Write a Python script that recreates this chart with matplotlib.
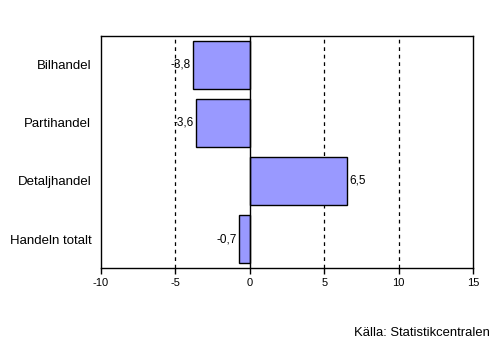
import matplotlib
matplotlib.use("Agg")
import matplotlib.pyplot as plt

categories = ["Bilhandel", "Partihandel", "Detaljhandel", "Handeln totalt"]
values = [-3.8, -3.6, 6.5, -0.7]
xticks = [-10, -5, 0, 5, 10, 15]
source = "Källa: Statistikcentralen"

plt.rcParams['font.family'] = ['Liberation Sans', 'DejaVu Sans']
fig = plt.figure(figsize=(5.01, 3.53), dpi=100)
ax = fig.add_axes([101/501, 1-268/353, (473-101)/501, (268-36)/353])

ypos = list(range(len(categories)))
ax.barh(ypos, values, height=0.82, color="#9999FF", edgecolor="black", linewidth=1, zorder=3)
ax.set_ylim(len(categories)-0.5, -0.5)
ax.set_xlim(-10, 15)
ax.set_xticks(xticks)
ax.set_xticklabels([str(t) for t in xticks], fontsize=8)
ax.set_yticks(ypos)
ax.set_yticklabels(categories, fontsize=9.5)
ax.tick_params(axis='y', length=0, pad=7)
ax.tick_params(axis='x', length=4, width=1, direction='out', pad=3)
for g in [-5, 5, 10]:
    ax.axvline(g, color='black', linestyle=(0, (3, 3)), linewidth=0.9, zorder=1)
ax.axvline(0, color='black', linewidth=1, zorder=4)
for s in ax.spines.values():
    s.set_linewidth(1)

for y, v in zip(ypos, values):
    lab = f"{v:.1f}".replace('.', ',')
    if v < 0:
        ax.annotate(lab, (v, y), xytext=(-2, 0), textcoords='offset points', ha='right', va='center', fontsize=8.5, zorder=5)
    else:
        ax.annotate(lab, (v, y), xytext=(2, 0), textcoords='offset points', ha='left', va='center', fontsize=8.5, zorder=5)

fig.text(490/501, 1-333/353, source, ha='right', va='center', fontsize=9.4)
fig.savefig("out.png", dpi=100)
